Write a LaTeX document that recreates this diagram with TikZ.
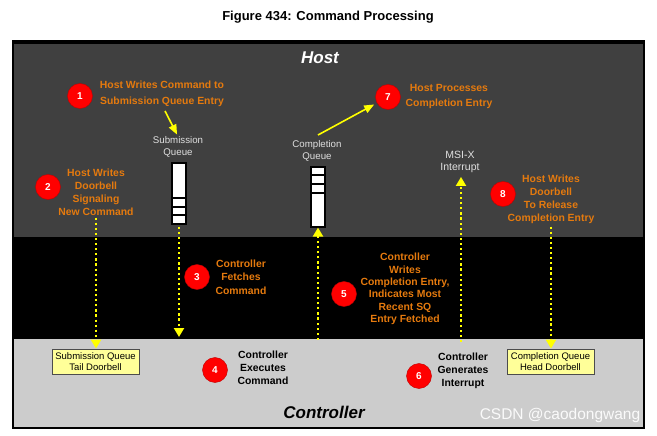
\documentclass[tikz,border=0pt]{standalone}
\usepackage{fontspec}
\setmainfont{Liberation Sans}
\usetikzlibrary{arrows.meta}
\definecolor{hostgray}{HTML}{404040}
\definecolor{ctrlgray}{HTML}{CCCCCC}
\definecolor{orangetxt}{HTML}{E57A0E}
\definecolor{dbfill}{HTML}{FFFF99}
\definecolor{ylw}{HTML}{FFFF00}
\begin{document}
\begin{tikzpicture}[x=1pt,y=-1pt,
  numcirc/.style={circle, fill=red, draw=red!75!black, line width=0.4pt, minimum size=25pt, inner sep=0pt, text=white, font=\bfseries\fontsize{10}{12}\selectfont},
  otext/.style={align=center, text=orangetxt, font=\bfseries\fontsize{10.4}{13}\selectfont, inner sep=0pt},
  btext/.style={align=center, text=black, font=\bfseries\fontsize{10.4}{13}\selectfont, inner sep=0pt},
  wlabel/.style={align=center, text=white!88!black, font=\fontsize{9.7}{12}\selectfont, inner sep=0pt},
  dbbox/.style={draw=black!70, fill=dbfill, line width=0.8pt, align=center, minimum width=87pt, minimum height=25pt, inner sep=0pt, font=\fontsize{9.5}{11.5}\selectfont},
  queue/.style={draw=black, fill=white, line width=1.2pt, minimum width=14pt, inner sep=0pt},
  qline/.style={black, line width=1.2pt},
  dotarrow/.style={ylw, line width=2.1pt, dash pattern=on 2.2pt off 2.9pt, -{Triangle[width=10pt,length=9pt]}},
  solidarrow/.style={ylw, line width=1.6pt, -{Triangle[width=8pt,length=10pt]}},
]
\useasboundingbox (0,0) rectangle (657,436);
\fill[white] (0,0) rectangle (657,436);
% frame and regions
\fill[black] (12,40) rectangle (645,429);
\fill[hostgray] (14,44) rectangle (643,237);
\fill[ctrlgray] (14,339) rectangle (643,427);

% titles
\node (title) at (328,17) {\bfseries\fontsize{13}{15}\selectfont Figure 434: Command Processing};
\node (host) at (320,58) [text=white, font=\bfseries\itshape\fontsize{17}{20}\selectfont] {Host};
\node (ctrl) at (324,412) [text=black, font=\bfseries\itshape\fontsize{17}{20}\selectfont] {Controller};

% step circles and texts
\node[numcirc] (c1) at (80,96) {1};
\node[otext, font=\bfseries\fontsize{10.4}{15.5}\selectfont] (t1) at (162,94) {Host Writes Command to\\Submission Queue Entry};
\node[numcirc] (c2) at (48,187) {2};
\node[otext] (t2) at (96,192) {Host Writes\\Doorbell\\Signaling\\New Command};
\node[numcirc] (c3) at (197,277) {3};
\node[otext, font=\bfseries\fontsize{10.4}{13.5}\selectfont] (t3) at (241,277) {Controller\\Fetches\\Command};
\node[numcirc] (c4) at (215,370) {4};
\node[btext] (t4) at (263,368) {Controller\\Executes\\Command};
\node[numcirc] (c5) at (344,294) {5};
\node[otext, font=\bfseries\fontsize{10.4}{12.4}\selectfont] (t5) at (405,289) {Controller\\Writes\\Completion Entry,\\Indicates Most\\Recent SQ\\Entry Fetched};
\node[numcirc] (c6) at (419,376) {6};
\node[btext] (t6) at (463,371) {Controller\\Generates\\Interrupt};
\node[numcirc] (c7) at (388,97) {7};
\node[otext, font=\bfseries\fontsize{10.4}{15}\selectfont] (t7) at (449,97) {Host Processes\\Completion Entry};
\node[numcirc] (c8) at (503,194) {8};
\node[otext] (t8) at (551,199) {Host Writes\\Doorbell\\To Release\\Completion Entry};

% queues
\node[wlabel] (sqlab) at (178,147) {Submission\\Queue};
\node[queue, minimum height=61pt] (sq) at (179,193.5) {};
\draw[qline] (172,198) -- (186,198);
\draw[qline] (172,207) -- (186,207);
\draw[qline] (172,215) -- (186,215);
\node[wlabel] (cqlab) at (317,151) {Completion\\Queue};
\node[queue, minimum height=60pt] (cq) at (318,197) {};
\draw[qline] (311,175) -- (325,175);
\draw[qline] (311,184) -- (325,184);
\draw[qline] (311,193) -- (325,193);
\node[wlabel, font=\fontsize{10.5}{12}\selectfont] (msi) at (460,162) {MSI-X\\Interrupt};

% doorbells
\node[dbbox] (sqtd) at (95.5,361.5) {Submission Queue\\Tail Doorbell};
\node[dbbox] (cqhd) at (550.5,361.5) {Completion Queue\\Head Doorbell};

% connectors
\coordinate (a1s) at (165,111);
\draw[solidarrow, shorten >=2pt] (a1s) -- (sqlab.north);
\coordinate (a7s) at (318,135);
\draw[solidarrow, shorten >=3pt] (a7s) -- (c7);
\draw[dotarrow, shorten <=2pt] (t2.south) -- (t2.south |- sqtd.north);
\coordinate (fetch) at (179,337);
\draw[dotarrow, shorten <=2pt] (sq.south) -- (fetch);
\coordinate (cqin) at (318,340);
\draw[dotarrow] (cqin) -- (cq.south);
\coordinate (msiin) at (461,342);
\draw[dotarrow, shorten >=4pt] (msiin) -- (msiin |- msi.south);
\draw[dotarrow, shorten <=3pt] (t8.south) -- (t8.south |- cqhd.north);

% watermark
\node[text=white, opacity=0.9, font=\fontsize{15.5}{17}\selectfont] (wm) at (560,415) {CSDN @caodongwang};
\end{tikzpicture}
\end{document}
